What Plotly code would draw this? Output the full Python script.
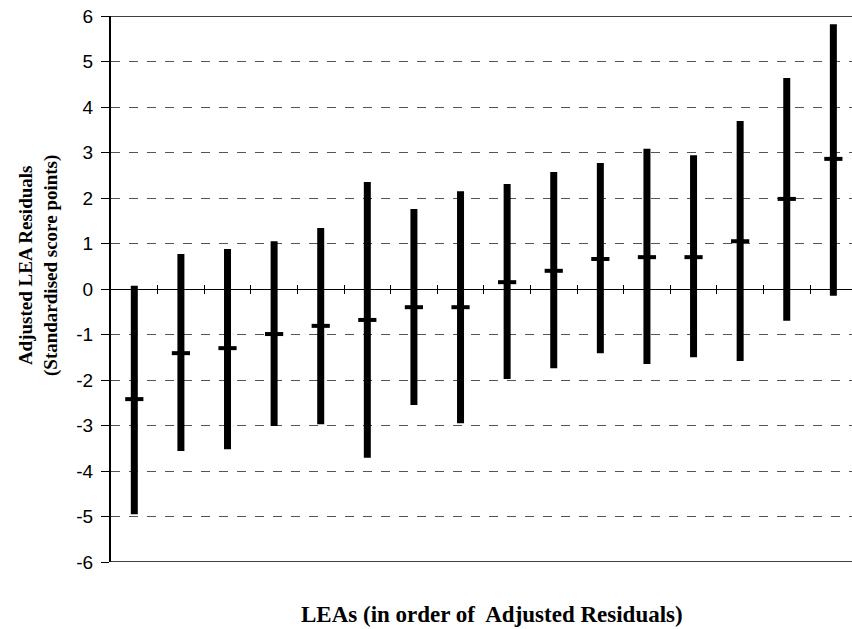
import plotly.graph_objects as go

leas = [f"LEA {i}" for i in range(1, 17)]
lower = [-4.95, -3.56, -3.52, -3.01, -2.97, -3.71, -2.55, -2.95, -1.98, -1.74, -1.41, -1.65, -1.50, -1.58, -0.70, -0.15]
resid = [-2.42, -1.41, -1.30, -0.99, -0.81, -0.68, -0.40, -0.40, 0.15, 0.40, 0.66, 0.70, 0.70, 1.05, 1.98, 2.86]
upper = [0.07, 0.77, 0.88, 1.05, 1.34, 2.35, 1.76, 2.15, 2.31, 2.57, 2.77, 3.08, 2.94, 3.69, 4.64, 5.82]
yticks = [-6, -5, -4, -3, -2, -1, 0, 1, 2, 3, 4, 5, 6]

fig = go.Figure()

# vertical interval bars
xs, ys = [], []
for i, name in enumerate(leas):
    xs += [i, i, None]
    ys += [lower[i], upper[i], None]
fig.add_trace(go.Scatter(x=xs, y=ys, mode="lines",
                         line=dict(color="black", width=7),
                         hoverinfo="skip", showlegend=False))
# midpoint markers
fig.add_trace(go.Scatter(x=list(range(len(leas))), y=resid, mode="markers",
                         marker=dict(symbol="line-ew", size=13,
                                     line=dict(color="black", width=4)),
                         showlegend=False))

fig.update_layout(
    width=852, height=629,
    margin=dict(l=111, r=0, t=16, b=67),
    paper_bgcolor="white", plot_bgcolor="white",
    font=dict(family="Liberation Sans, Arial, sans-serif", color="black"),
    xaxis=dict(range=[-0.5, 15.4], showgrid=False, zeroline=False,
               showticklabels=False, tickmode="array",
               tickvals=[i + 0.5 for i in range(16)],
               ticks="outside", ticklen=4, tickcolor="black", tickwidth=1,
               showline=True, linecolor="black", linewidth=1,
               anchor="free", position=0.5),
    xaxis2=dict(range=[-0.5, 15.4], overlaying="x", showgrid=False, zeroline=False,
                showticklabels=False, tickmode="array",
                tickvals=[i + 0.5 for i in range(16)],
                ticks="inside", ticklen=4, tickcolor="black", tickwidth=1,
                showline=False, anchor="free", position=0.5),
    yaxis=dict(range=[-6, 6], tickmode="array", tickvals=yticks,
               ticktext=[str(v) for v in yticks],
               tickfont=dict(size=19, family="Liberation Sans, Arial, sans-serif"),
               ticks="outside", ticklen=8, tickcolor="black",
               ticklabelstandoff=4,
               showline=True, linecolor="black", linewidth=2,
               showgrid=True, gridcolor="#555555", gridwidth=1, griddash="dash",
               zeroline=True, zerolinecolor="black", zerolinewidth=1),
)
# dummy trace to activate xaxis2
fig.add_trace(go.Scatter(x=[0], y=[None], xaxis="x2", showlegend=False, hoverinfo="skip"))

# top and bottom frame lines
for yv in (6, -6):
    fig.add_shape(type="line", xref="paper", yref="y", x0=0, x1=1, y0=yv, y1=yv,
                  line=dict(color="black", width=1.5))

fig.add_annotation(text="<b>Adjusted LEA Residuals<br>(Standardised score points)</b>",
                   xref="paper", yref="paper", x=(38 - 111) / 741, y=(562 - 266) / 546,
                   xanchor="center", yanchor="middle", textangle=-90, showarrow=False,
                   font=dict(family="Liberation Serif, Times New Roman, serif", size=19))
fig.add_annotation(text="<b>LEAs (in order of  Adjusted Residuals)</b>",
                   xref="paper", yref="paper", x=(492 - 111) / 741, y=(562 - 614) / 546,
                   xanchor="center", yanchor="middle", showarrow=False,
                   font=dict(family="Liberation Serif, Times New Roman, serif", size=23))

fig.write_html("out.html")
